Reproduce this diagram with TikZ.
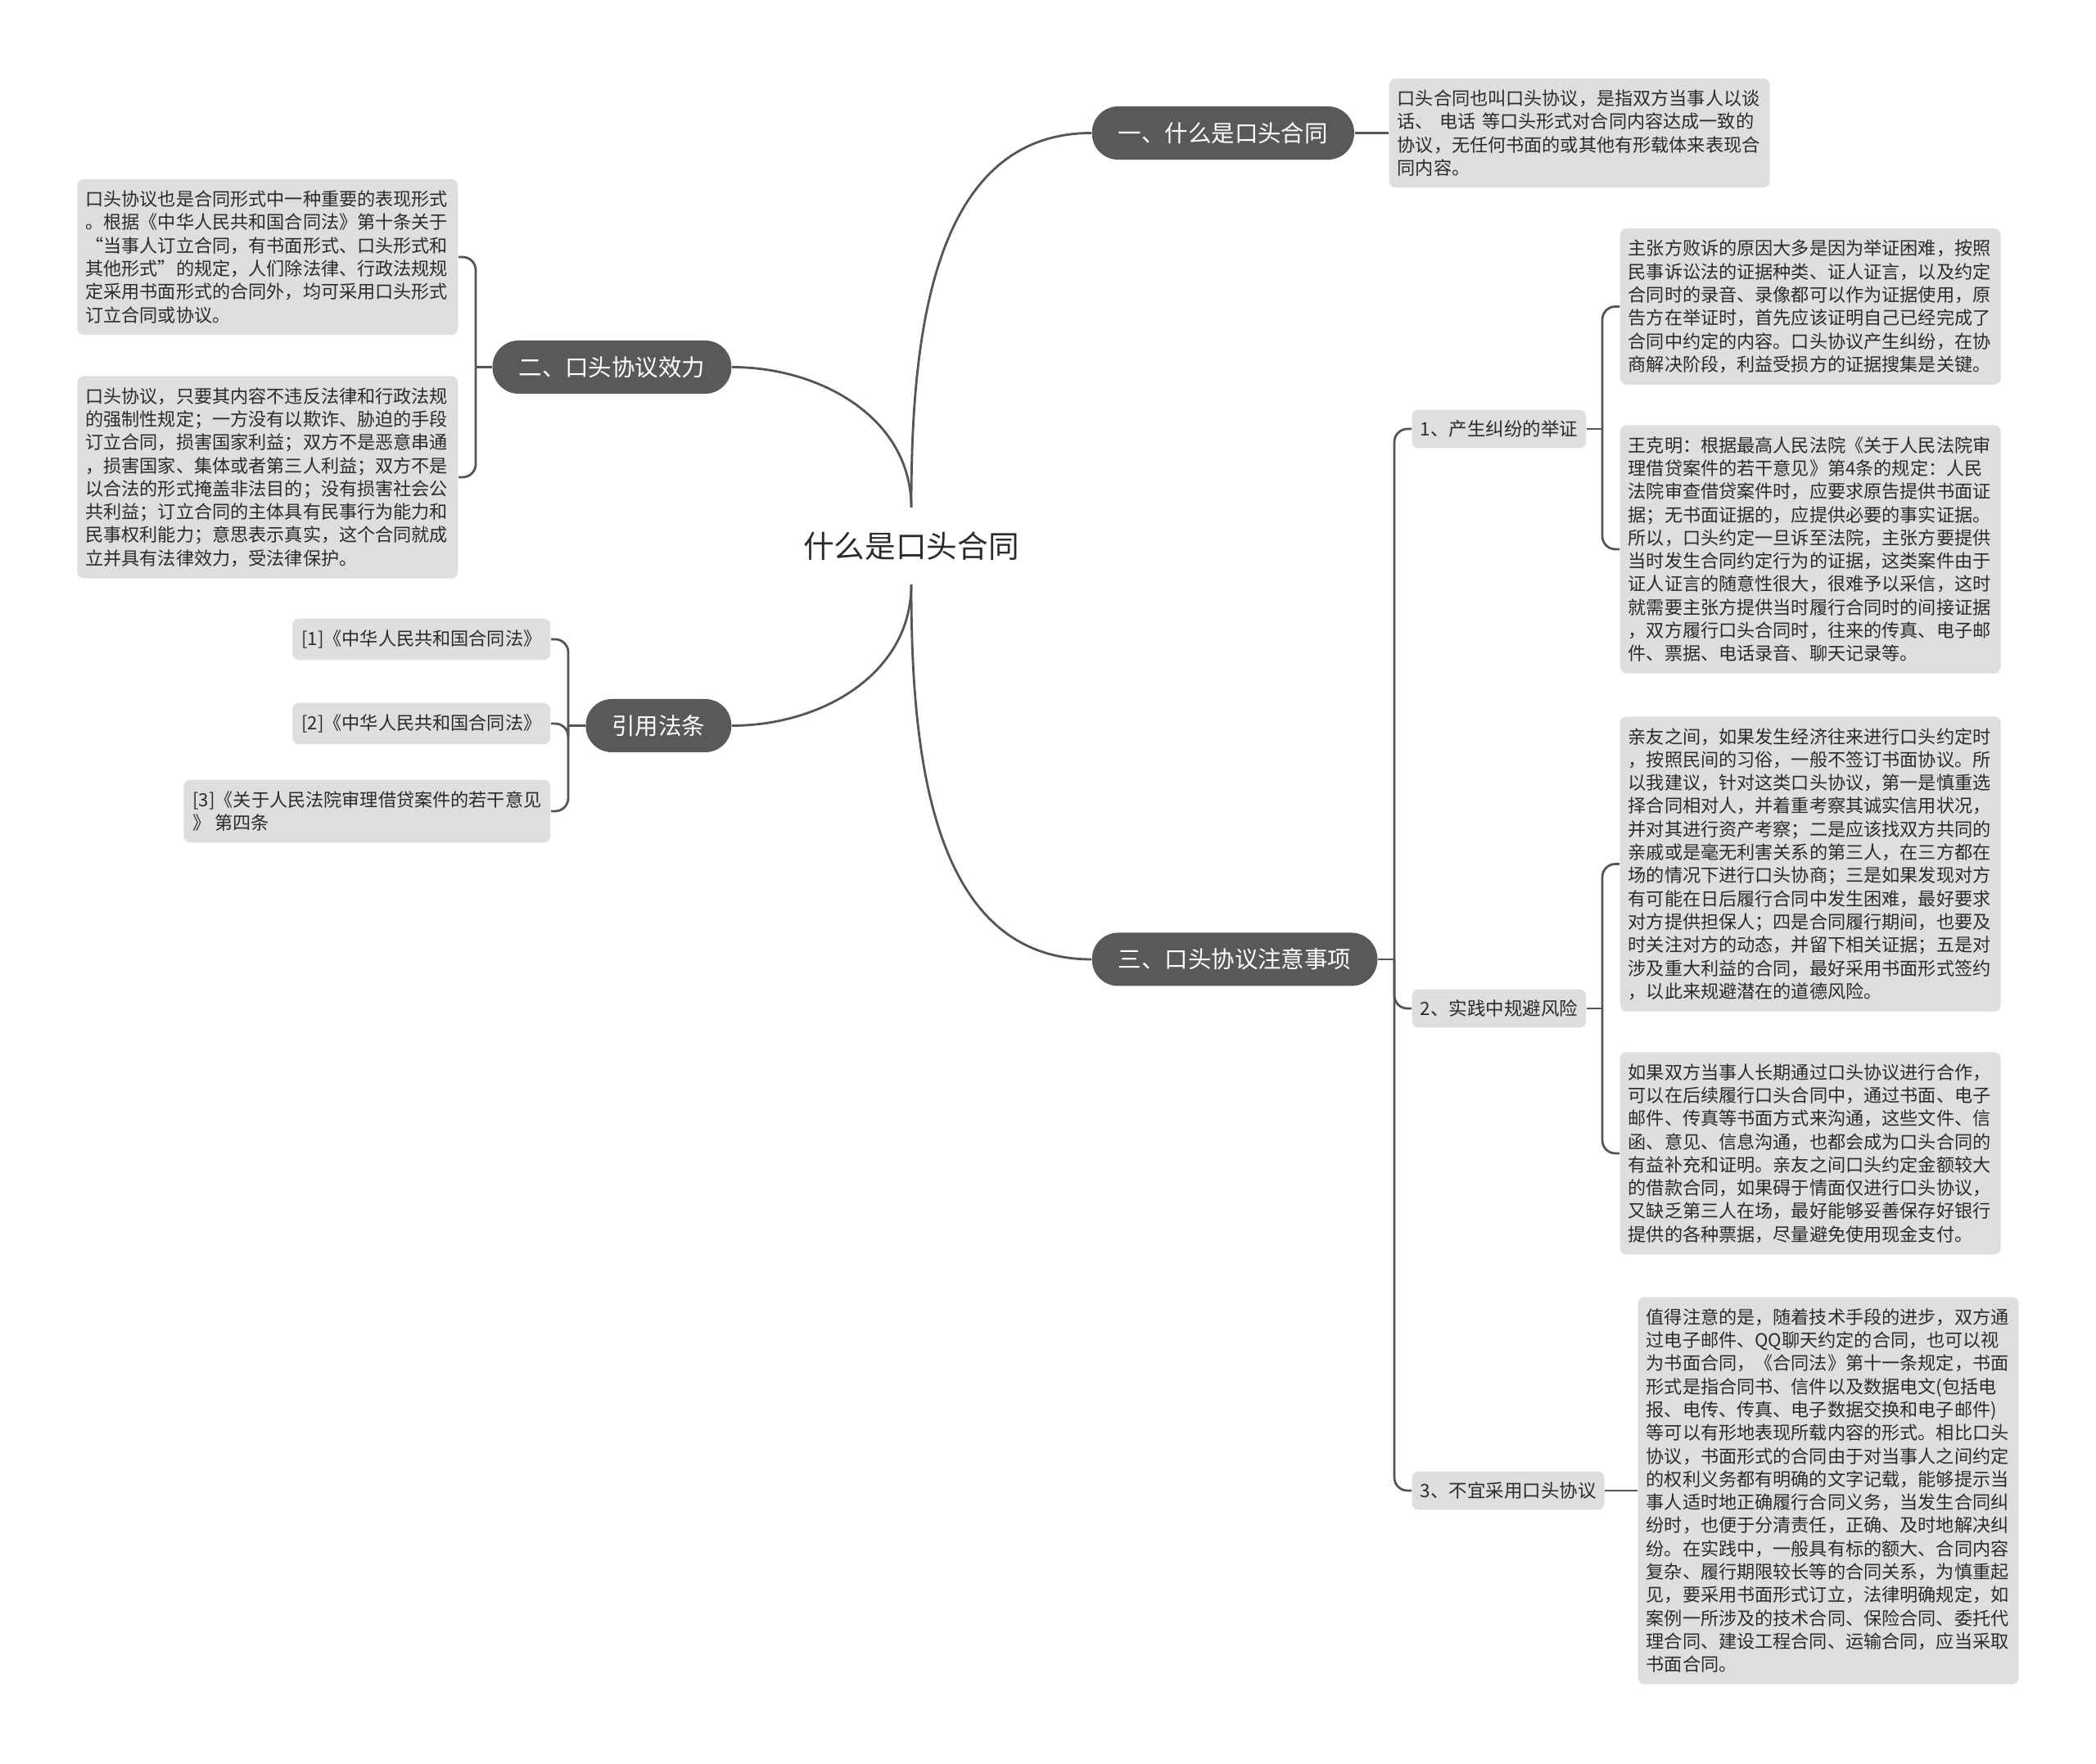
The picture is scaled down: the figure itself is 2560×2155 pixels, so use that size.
\documentclass[tikz,border=0pt]{standalone}
\usepackage{fontspec}
\setmainfont{Noto Sans CJK SC}
\definecolor{mPill}{HTML}{595959}
\definecolor{mLeaf}{HTML}{DEDEDE}
\definecolor{mLine}{HTML}{555555}
\definecolor{mInk}{HTML}{2B2B2B}
\tikzset{
  root/.style={font=\fontsize{10.7pt}{13pt}\selectfont, text=mInk,
               minimum height=9.3mm, inner sep=0pt},
  pill/.style={fill=mPill, text=white, rounded corners=3.2mm,
               minimum height=6.5mm, inner xsep=3.2mm, inner ysep=0pt,
               font=\fontsize{8.1pt}{10pt}\selectfont},
  leaf/.style={fill=mLeaf, text=mInk, rounded corners=0.8mm, align=left,
               text width=44.5mm, inner xsep=1mm, inner ysep=1.4mm,
               font=\fontsize{6.3pt}{8.05pt}\selectfont},
  sub/.style={fill=mLeaf, text=mInk, rounded corners=0.8mm,
              inner xsep=1mm, inner ysep=1.3mm,
              font=\fontsize{6.4pt}{8pt}\selectfont},
  ref/.style={sub, align=left, inner xsep=1.1mm, inner ysep=1.4mm,
              font=\fontsize{6.3pt}{8.05pt}\selectfont},
  link/.style={draw=mLine, line width=0.8pt},
  % the brackets that fan out to several children
  fork/.style={link, rounded corners=1.6mm},
}

\begin{document}
\begin{tikzpicture}[x=0.1mm, y=-0.1mm]
\useasboundingbox (0,0) rectangle (2560,2155);

\node[root] (root) at (1113,667) {什么是口头合同};

%% ── 一、什么是口头合同 ───────────────────────────────────────────────
\node[pill, anchor=west] (p1) at (1333,162.5) {一、什么是口头合同};
\node[leaf, anchor=west] (l1) at (1696,162.5)
  {口头合同也叫口头协议，是指双方当事人以谈\\
   话、 电话 等口头形式对合同内容达成一致的\\
   协议，无任何书面的或其他有形载体来表现合\\
   同内容。};

%% ── 二、口头协议效力 ─────────────────────────────────────────────────
\node[pill, anchor=east] (p2) at (894,448.5) {二、口头协议效力};
\node[leaf, anchor=east] (l2a) at (560,314)
  {口头协议也是合同形式中一种重要的表现形式\\
   。根据《中华人民共和国合同法》第十条关于\\
   “当事人订立合同，有书面形式、口头形式和\\
   其他形式”的规定，人们除法律、行政法规规\\
   定采用书面形式的合同外，均可采用口头形式\\
   订立合同或协议。};
\node[leaf, anchor=east] (l2b) at (560,583)
  {口头协议，只要其内容不违反法律和行政法规\\
   的强制性规定；一方没有以欺诈、胁迫的手段\\
   订立合同，损害国家利益；双方不是恶意串通\\
   ，损害国家、集体或者第三人利益；双方不是\\
   以合法的形式掩盖非法目的；没有损害社会公\\
   共利益；订立合同的主体具有民事行为能力和\\
   民事权利能力；意思表示真实，这个合同就成\\
   立并具有法律效力，受法律保护。};
\coordinate (j2) at (581,448.5);

%% ── 引用法条 ─────────────────────────────────────────────────────────
\node[pill, anchor=east] (p4) at (894,886.5) {引用法条};
\node[ref, anchor=east] (r1) at (673,781) {[1]《中华人民共和国合同法》};
\node[ref, anchor=east] (r2) at (673,884) {[2]《中华人民共和国合同法》};
\node[ref, anchor=east] (r3) at (673,991)
  {[3]《关于人民法院审理借贷案件的若干意见\\》 第四条};
\coordinate (j4) at (694,886.5);

%% ── 三、口头协议注意事项 ─────────────────────────────────────────────
\node[pill, anchor=west] (p3) at (1333,1172) {三、口头协议注意事项};
\coordinate (j3) at (1703,1172);

\node[sub, anchor=west] (s1) at (1724,524) {1、产生纠纷的举证};
\node[sub, anchor=west] (s2) at (1724,1232) {2、实践中规避风险};
\node[sub, anchor=west] (s3) at (1724,1821) {3、不宜采用口头协议};

\node[leaf, anchor=west] (k1a) at (1978,374.5)
  {主张方败诉的原因大多是因为举证困难，按照\\
   民事诉讼法的证据种类、证人证言，以及约定\\
   合同时的录音、录像都可以作为证据使用，原\\
   告方在举证时，首先应该证明自己已经完成了\\
   合同中约定的内容。口头协议产生纠纷，在协\\
   商解决阶段，利益受损方的证据搜集是关键。};
\node[leaf, anchor=west] (k1b) at (1978,671)
  {王克明：根据最高人民法院《关于人民法院审\\
   理借贷案件的若干意见》第4条的规定：人民\\
   法院审查借贷案件时，应要求原告提供书面证\\
   据；无书面证据的，应提供必要的事实证据。\\
   所以，口头约定一旦诉至法院，主张方要提供\\
   当时发生合同约定行为的证据，这类案件由于\\
   证人证言的随意性很大，很难予以采信，这时\\
   就需要主张方提供当时履行合同时的间接证据\\
   ，双方履行口头合同时，往来的传真、电子邮\\
   件、票据、电话录音、聊天记录等。};
\coordinate (j5) at (1957,524);

\node[leaf, anchor=west] (k2a) at (1978,1055.5)
  {亲友之间，如果发生经济往来进行口头约定时\\
   ，按照民间的习俗，一般不签订书面协议。所\\
   以我建议，针对这类口头协议，第一是慎重选\\
   择合同相对人，并着重考察其诚实信用状况，\\
   并对其进行资产考察；二是应该找双方共同的\\
   亲戚或是毫无利害关系的第三人，在三方都在\\
   场的情况下进行口头协商；三是如果发现对方\\
   有可能在日后履行合同中发生困难，最好要求\\
   对方提供担保人；四是合同履行期间，也要及\\
   时关注对方的动态，并留下相关证据；五是对\\
   涉及重大利益的合同，最好采用书面形式签约\\
   ，以此来规避潜在的道德风险。};
\node[leaf, anchor=west] (k2b) at (1978,1409)
  {如果双方当事人长期通过口头协议进行合作，\\
   可以在后续履行口头合同中，通过书面、电子\\
   邮件、传真等书面方式来沟通，这些文件、信\\
   函、意见、信息沟通，也都会成为口头合同的\\
   有益补充和证明。亲友之间口头约定金额较大\\
   的借款合同，如果碍于情面仅进行口头协议，\\
   又缺乏第三人在场，最好能够妥善保存好银行\\
   提供的各种票据，尽量避免使用现金支付。};
\coordinate (j6) at (1957,1232);

\node[leaf, anchor=west] (k3) at (2000,1821)
  {值得注意的是，随着技术手段的进步，双方通\\
   过电子邮件、QQ聊天约定的合同，也可以视\\
   为书面合同，《合同法》第十一条规定，书面\\
   形式是指合同书、信件以及数据电文(包括电\\
   报、电传、传真、电子数据交换和电子邮件)\\
   等可以有形地表现所载内容的形式。相比口头\\
   协议，书面形式的合同由于对当事人之间约定\\
   的权利义务都有明确的文字记载，能够提示当\\
   事人适时地正确履行合同义务，当发生合同纠\\
   纷时，也便于分清责任，正确、及时地解决纠\\
   纷。在实践中，一般具有标的额大、合同内容\\
   复杂、履行期限较长等的合同关系，为慎重起\\
   见，要采用书面形式订立，法律明确规定，如\\
   案例一所涉及的技术合同、保险合同、委托代\\
   理合同、建设工程合同、运输合同，应当采取\\
   书面合同。};

%% ── connectors ────────────────────────────────────────────────────────
\draw[link] (root.north) to[out=90, in=180] (p1.west);
\draw[link] (root.north) to[out=90, in=0] (p2.east);
\draw[link] (root.south) to[out=270, in=0] (p4.east);
\draw[link] (root.south) to[out=270, in=180] (p3.west);

\draw[link] (p1.east) -- (l1.west);

\draw[link] (p2.west) -- (j2);
\draw[fork] (j2) |- (l2a.east);
\draw[fork] (j2) |- (l2b.east);

\draw[link] (p4.west) -- (j4);
\draw[fork] (j4) |- (r1.east);
\draw[fork] (j4) |- (r2.east);
\draw[fork] (j4) |- (r3.east);

\draw[link] (p3.east) -- (j3);
\draw[fork] (j3) |- (s1.west);
\draw[fork] (j3) |- (s2.west);
\draw[fork] (j3) |- (s3.west);

\draw[link] (s1.east) -- (j5);
\draw[fork] (j5) |- (k1a.west);
\draw[fork] (j5) |- (k1b.west);

\draw[link] (s2.east) -- (j6);
\draw[fork] (j6) |- (k2a.west);
\draw[fork] (j6) |- (k2b.west);

\draw[link] (s3.east) -- (k3.west);

\end{tikzpicture}
\end{document}
